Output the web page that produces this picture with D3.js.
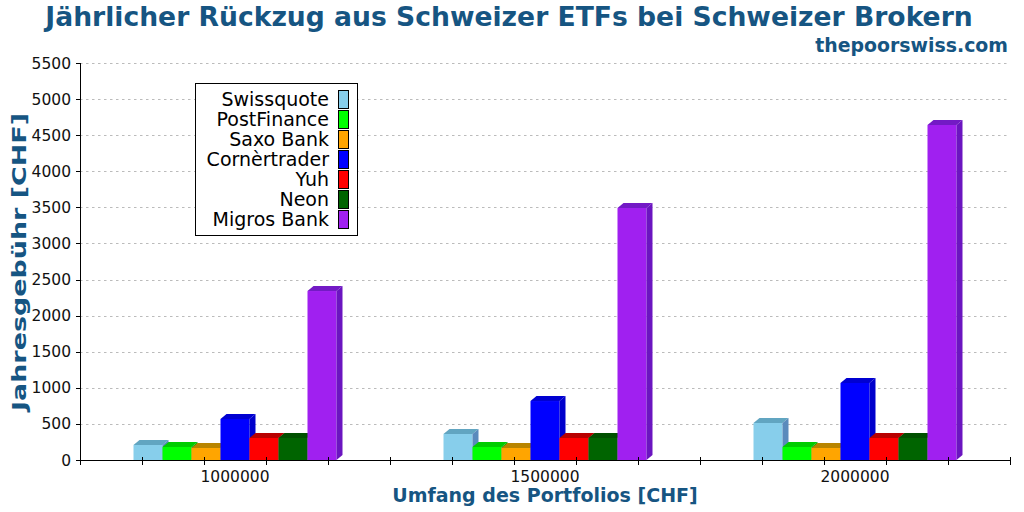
<!DOCTYPE html>
<html>
<head>
<meta charset="utf-8">
<script src="https://cdn.jsdelivr.net/npm/d3@7"></script>
<style>
  body { margin: 0; background: #fff; }
  text { font-family: "DejaVu Sans", sans-serif; }
</style>
</head>
<body>
<div id="chart"></div>
<script>
// Daten
var groups = ['1000000', '1500000', '2000000'];
var brokers = ['Swissquote', 'PostFinance', 'Saxo Bank', 'Cornèrtrader', 'Yuh', 'Neon', 'Migros Bank'];
var brokerColors = ['#87ceeb', '#00ff00', '#ffa500', '#0000ff', '#ff0000', '#006400', '#a020f0'];
var swissquote = [208, 360, 513];
var postfinance = [180, 180, 180];
var saxoBank = [166, 166, 166];
var cornertrader = [568, 817, 1067];
var yuh = [305, 305, 305];
var neon = [305, 305, 305];
var migrosBank = [2341, 3491, 4641];
var yTicks = d3.range(0, 5501, 500);

var series = [swissquote, postfinance, saxoBank, cornertrader, yuh, neon, migrosBank];

var W = 1024, H = 512;
var titleColor = '#165582';
var plotLeft = 80, plotRight = 1010, plotTop = 63, plotBottom = 460;
var depthX = 6, depthY = 5; // 3D Tiefe

var svg = d3.select('#chart').append('svg').attr('width', W).attr('height', H);

var x = d3.scaleBand().domain(groups).range([plotLeft, plotRight]).padding(0);
var xBar = d3.scaleBand().domain(brokers).range([0, x.bandwidth()]).paddingInner(0).paddingOuter(1.845);
var y = d3.scaleLinear().domain([0, 5500]).range([plotBottom, plotTop]);

// Gitterlinien
svg.append('g').selectAll('line').data(yTicks.slice(1)).enter().append('line')
    .attr('x1', plotLeft).attr('x2', plotRight)
    .attr('y1', function (d) { return Math.round(y(d)) + 0.5; })
    .attr('y2', function (d) { return Math.round(y(d)) + 0.5; })
    .style('stroke', '#bbbbbb').style('stroke-width', 1).style('stroke-dasharray', '2.5,3.5');

// Balken (3D)
var bars = [];
groups.forEach(function (g, gi) {
    brokers.forEach(function (b, bi) {
        bars.push({group: g, broker: b, value: series[bi][gi], color: brokerColors[bi]});
    });
});

var barG = svg.append('g');
bars.forEach(function (d) {
    var x0 = x(d.group) + xBar(d.broker);
    var w = xBar.bandwidth();
    var y0 = y(d.value), y1 = y(0);
    var c = d3.color(d.color);
    var topC = d3.rgb(c.r * 0.72, c.g * 0.8, c.b * 0.82);
    var sideC = d3.rgb(c.r * 0.67, c.g * 0.67, c.b * 0.8);
    barG.append('rect').attr('x', x0).attr('y', y0).attr('width', w).attr('height', y1 - y0).attr('fill', d.color);
    barG.append('polygon')
        .attr('points', [[x0, y0], [x0 + depthX, y0 - depthY], [x0 + w + depthX, y0 - depthY], [x0 + w, y0]].join(' '))
        .attr('fill', topC);
    barG.append('polygon')
        .attr('points', [[x0 + w, y0], [x0 + w + depthX, y0 - depthY], [x0 + w + depthX, y1 - depthY], [x0 + w, y1]].join(' '))
        .attr('fill', sideC);
});

// Y-Achse
var yAxis = svg.append('g');
yAxis.append('line').attr('x1', plotLeft + 0.5).attr('x2', plotLeft + 0.5).attr('y1', plotTop).attr('y2', plotBottom)
    .style('stroke', '#000').style('stroke-width', 1);
yTicks.forEach(function (t) {
    var ty = Math.round(y(t)) + 0.5;
    yAxis.append('line').attr('x1', plotLeft - 4).attr('x2', plotLeft).attr('y1', ty).attr('y2', ty)
        .style('stroke', '#000');
    yAxis.append('text').text(t).attr('x', plotLeft - 9).attr('y', y(t)).attr('dy', '0.36em')
        .attr('text-anchor', 'end').style('font-size', '15.5px').attr('fill', '#111');
});

// X-Achse
var xAxis = svg.append('g');
xAxis.append('line').attr('x1', plotLeft).attr('x2', plotRight).attr('y1', plotBottom + 0.5).attr('y2', plotBottom + 0.5)
    .style('stroke', '#000').style('stroke-width', 1);
var nMinor = 15;
d3.range(nMinor + 1).forEach(function (i) {
    var tx = Math.round(plotLeft + i * (plotRight - plotLeft) / nMinor) + 0.5;
    xAxis.append('line').attr('x1', tx).attr('x2', tx).attr('y1', plotBottom - 3).attr('y2', plotBottom + 5)
        .style('stroke', '#000');
});
groups.forEach(function (g) {
    xAxis.append('text').text(g).attr('x', x(g) + x.bandwidth() / 2).attr('y', 482)
        .attr('text-anchor', 'middle').style('font-size', '15.5px').attr('fill', '#111');
});

// Titel
svg.append('text').text('Jährlicher Rückzug aus Schweizer ETFs bei Schweizer Brokern')
    .attr('x', 509).attr('y', 26).attr('text-anchor', 'middle')
    .style('font-size', '26.6px').style('font-weight', 'bold').attr('fill', titleColor);
svg.append('text').text('thepoorswiss.com')
    .attr('x', 1008).attr('y', 52).attr('text-anchor', 'end')
    .style('font-size', '18.9px').style('font-weight', 'bold').attr('fill', titleColor);

// Achsentitel
svg.append('text').text('Umfang des Portfolios [CHF]')
    .attr('x', 545).attr('y', 502).attr('text-anchor', 'middle')
    .style('font-size', '19px').style('font-weight', 'bold').attr('fill', titleColor);
svg.append('text').text('Jahresgebühr [CHF]')
    .attr('transform', 'translate(26,262) rotate(-90)').attr('text-anchor', 'middle')
    .attr('textLength', 298).attr('lengthAdjust', 'spacingAndGlyphs')
    .style('font-size', '19px').style('font-weight', 'bold').attr('fill', titleColor);

// Legende
var legend = svg.append('g');
legend.append('rect').attr('x', 195.5).attr('y', 83.5).attr('width', 162).attr('height', 152)
    .attr('fill', '#fff').style('stroke', '#000');
brokers.forEach(function (b, i) {
    var ly = 90 + i * 20;
    legend.append('rect').attr('x', 338.5).attr('y', ly + 0.5).attr('width', 10).attr('height', 18)
        .attr('fill', brokerColors[i]).style('stroke', '#000');
    legend.append('text').text(b).attr('x', 329).attr('y', ly + 16).attr('text-anchor', 'end')
        .style('font-size', '19px').attr('fill', '#000');
});
</script>
</body>
</html>
